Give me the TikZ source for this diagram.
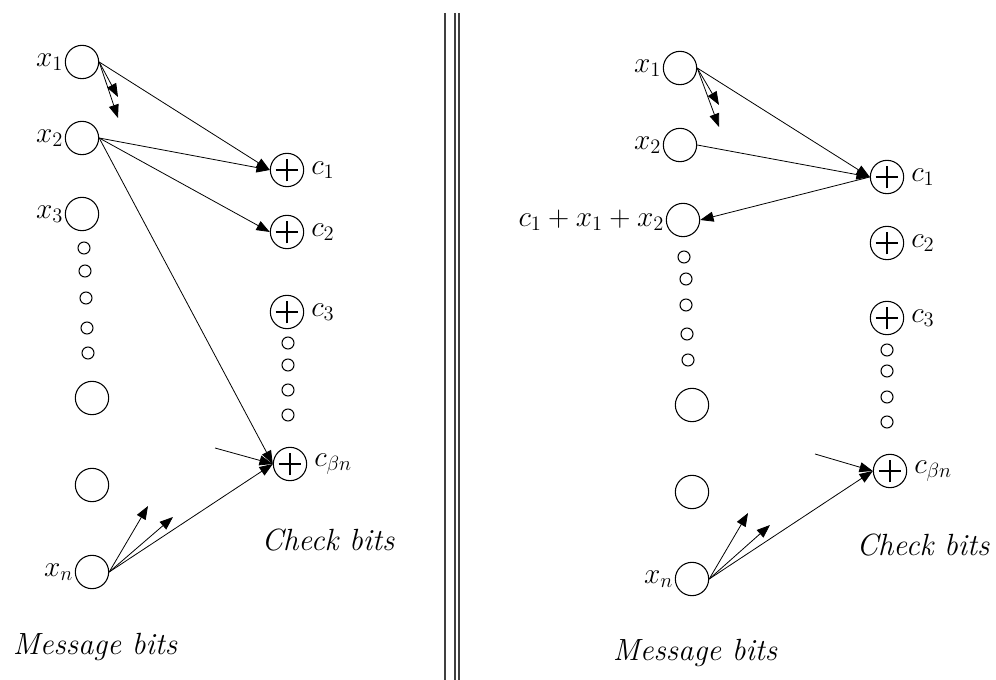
\RequirePackage{fix-cm}
\documentclass[tikz,border=0pt]{standalone}
\usepackage{amssymb}
\usepackage{tikz}
\usetikzlibrary{arrows.meta}

\tikzset{
    msg/.style={circle,draw,line width=0.8pt,minimum size=25pt,inner sep=0pt},
    dotn/.style={circle,draw,line width=0.8pt,minimum size=9pt,inner sep=0pt},
    chk/.style={circle,draw,line width=0.8pt,minimum size=25pt,inner sep=0pt,
        path picture={
            \draw ([xshift=-8.5pt]path picture bounding box.center) -- ([xshift=8.5pt]path picture bounding box.center);
            \draw ([yshift=-8.5pt]path picture bounding box.center) -- ([yshift=8.5pt]path picture bounding box.center);}},
    lab/.style={inner sep=1pt},
    rlab/.style={inner sep=5pt},
    tip/.style={-{Triangle[length=10pt,width=7.5pt]}},
    sep/.style={line width=0.9pt,black!75},
    groupname/.style={font=\fontsize{23}{27}\selectfont\itshape}
}

\begin{document}
\begin{tikzpicture}[x=0.75pt,y=-0.75pt,line width=0.6pt,font=\fontsize{22}{26}\selectfont]
    \useasboundingbox (0,0) rectangle (996,680);

    % left: message bits
    \node[msg,label={[lab]left:$x_1$}] (lx1) at (82,62) {};
    \node[msg,label={[lab]left:$x_2$}] (lx2) at (82,138) {};
    \node[msg,label={[lab]left:$x_3$}] (lx3) at (82,214) {};
    \foreach \i/\x/\y in {1/84/248,2/85/271,3/86/298,4/87/328,5/88/353}
        \node[dotn] (ld\i) at (\x,\y) {};
    \node[msg] (lm1) at (92,398) {};
    \node[msg] (lm2) at (92,485) {};
    \node[msg,label={[lab]left:$x_n$}] (lxn) at (92,572) {};

    % left: check bits
    \node[chk,label={[rlab]right:$c_1$}] (lc1) at (287,170) {};
    \node[chk,label={[rlab]right:$c_2$}] (lc2) at (287,232) {};
    \node[chk,label={[rlab]right:$c_3$}] (lc3) at (287,312) {};
    \foreach \i/\y in {1/343,2/365,3/390,4/415}
        \node[dotn] (le\i) at (288,\y) {};
    \node[chk,label={[rlab]right:$c_{\beta n}$}] (lcb) at (290,464) {};

    \coordinate (la1) at (118,97);
    \coordinate (la2) at (118,118);
    \coordinate (la3) at (215,448);
    \coordinate (la4) at (148,506);
    \coordinate (la5) at (173,517);

    \draw[tip] (lx1.east) -- (la1);
    \draw[tip] (lx1.east) -- (la2);
    \draw[tip] (lx1.east) -- (lc1.west);
    \draw[tip] (lx2.east) -- (lc1.west);
    \draw[tip] (lx2.east) -- (lc2.west);
    \draw[tip] (lx2.east) -- (lcb.west);
    \draw[tip] (la3) -- (lcb.west);
    \draw[tip] (lxn.east) -- (lcb.west);
    \draw[tip] (lxn.east) -- (la4);
    \draw[tip] (lxn.east) -- (la5);

    \node[groupname] (lchk) at (328,540) {Check bits};
    \node[groupname] (lmsg) at (95,647) {Message bits};

    % separator
    \draw[sep] (445,13) -- (445,680);
    \draw[sep] (455,13) -- (455,680);
    \draw[sep] (459,13) -- (459,680);

    % right: message bits
    \node[msg,label={[lab]left:$x_1$}] (rx1) at (680,68) {};
    \node[msg,label={[lab]left:$x_2$}] (rx2) at (680,145) {};
    \node[msg,label={[lab]left:$c_1+x_1+x_2$}] (rs) at (683,220) {};
    \foreach \i/\x/\y in {1/684/257,2/686/279,3/686/305,4/687/334,5/688/360}
        \node[dotn] (rd\i) at (\x,\y) {};
    \node[msg] (rm1) at (692,405) {};
    \node[msg] (rm2) at (692,492) {};
    \node[msg,label={[lab]left:$x_n$}] (rxn) at (692,579) {};

    % right: check bits
    \node[chk,label={[rlab]right:$c_1$}] (rc1) at (887,177) {};
    \node[chk,label={[rlab]right:$c_2$}] (rc2) at (887,243) {};
    \node[chk,label={[rlab]right:$c_3$}] (rc3) at (887,318) {};
    \foreach \i/\y in {1/350,2/371,3/397,4/422}
        \node[dotn] (re\i) at (887,\y) {};
    \node[chk,label={[rlab]right:$c_{\beta n}$}] (rcb) at (890,471) {};

    \coordinate (ra1) at (719,105);
    \coordinate (ra2) at (719,127);
    \coordinate (ra3) at (815,454);
    \coordinate (ra4) at (748,513);
    \coordinate (ra5) at (770,525);

    \draw[tip] (rx1.east) -- (ra1);
    \draw[tip] (rx1.east) -- (ra2);
    \draw[tip] (rx1.east) -- (rc1.west);
    \draw[tip] (rx2.east) -- (rc1.west);
    \draw[tip] (rc1.west) -- (rs.east);
    \draw[tip] (ra3) -- (rcb.west);
    \draw[tip] (rxn.east) -- (rcb.west);
    \draw[tip] (rxn.east) -- (ra4);
    \draw[tip] (rxn.east) -- (ra5);

    \node[groupname] (rchk) at (923,545) {Check bits};
    \node[groupname] (rmsg) at (695,653) {Message bits};
\end{tikzpicture}
\end{document}
